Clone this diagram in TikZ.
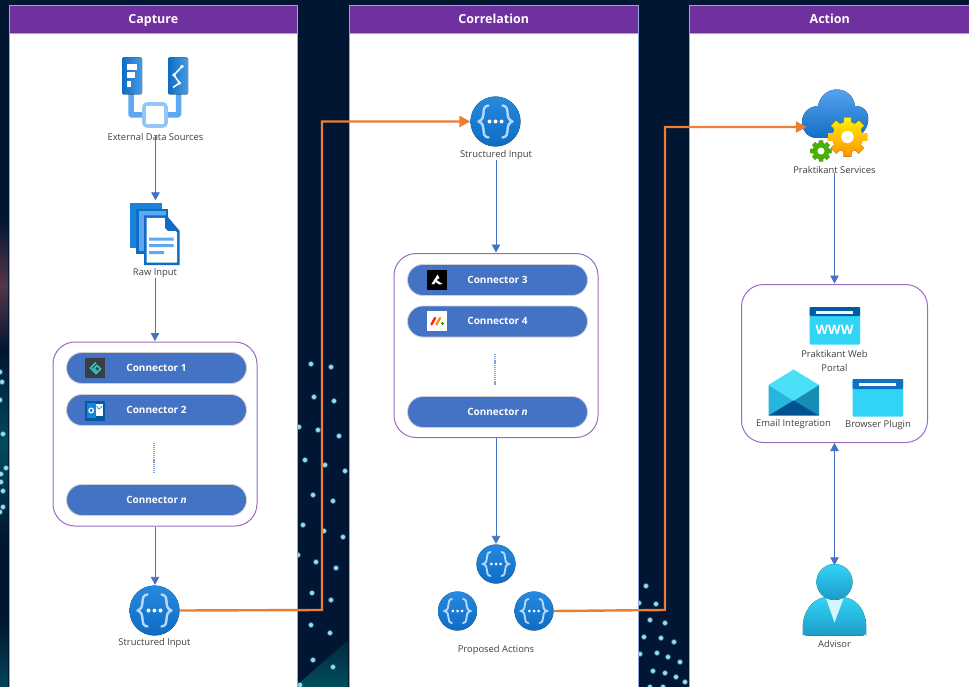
\documentclass[tikz,border=0pt]{standalone}
\usepackage{fontspec}
\setmainfont{Open Sans}
\usetikzlibrary{arrows.meta,shapes.geometric}
\definecolor{bgnavy}{HTML}{011633}
\definecolor{hdr}{HTML}{7030A0}
\definecolor{bar}{HTML}{4472C4}
\definecolor{orangeln}{HTML}{ED7D31}
\definecolor{purpleln}{HTML}{9A6CC0}
\definecolor{txt}{HTML}{404040}
\definecolor{iblue}{HTML}{1A84DC}
\definecolor{idark}{HTML}{0F6CC4}
\definecolor{ilight}{HTML}{5EA8F2}
\definecolor{icyan}{HTML}{32D4F5}
\definecolor{icyand}{HTML}{1C9CC8}
\definecolor{wwwblue}{HTML}{005BA1}
\definecolor{dotc}{HTML}{8FDCF0}
\tikzset{
 lane/.style={fill=white,draw=bar!60,line width=0.6pt},
 head/.style={fill=hdr,draw=bar!60,line width=0.6pt,text=white,text height=9.5pt,text depth=2.5pt,font=\fontsize{12.5}{14}\selectfont\bfseries},
 conn/.style={rounded corners=15.5pt,fill=bar,draw=black!18,line width=0.8pt,minimum width=180pt,minimum height=31pt,text=white,text height=8pt,text depth=1.5pt,font=\fontsize{10}{12}\selectfont\bfseries,inner sep=0pt},
 group/.style={rounded corners=22pt,fill=white,draw=purpleln,line width=1pt,inner sep=0pt},
 lbl/.style={text=txt,font=\fontsize{9.4}{14}\selectfont,inner sep=0pt,align=center,yshift=-1pt},
 slot/.style={inner sep=0pt,minimum size=#1,circle},
 flow/.style={draw=bar,line width=0.9pt,-{Triangle[width=8.5pt,length=8pt]},shorten >=0.5pt},
 flowboth/.style={draw=bar,line width=0.9pt,{Triangle[width=8.5pt,length=8pt]}-{Triangle[width=8.5pt,length=8pt]}},
 cross/.style={draw=orangeln,line width=2.4pt,-{Triangle[width=11pt,length=11pt]}},
 dots/.style={draw=bar!65,line width=1.4pt,dash pattern=on 1.2pt off 0.9pt},
 pics/apimark/.style={code={
   \fill[top color=iblue!85!ilight,bottom color=idark] (0,0) circle (25);
   \draw[ilight!45!white,line width=2.4pt,line cap=round,line join=round]
     (-7,-16) .. controls (-16,-15) and (-8,-3) .. (-17,0) .. controls (-8,3) and (-16,15) .. (-7,16);
   \draw[ilight!45!white,line width=2.4pt,line cap=round,line join=round]
     (7,-16) .. controls (16,-15) and (8,-3) .. (17,0) .. controls (8,3) and (16,15) .. (7,16);
   \fill[white] (-6,0) circle (2) (0,0) circle (2) (6,0) circle (2);
 }},
 pics/smallapi/.style={code={
   \fill[top color=iblue!85!ilight,bottom color=idark] (0,0) circle (19.5);
   \draw[ilight!45!white,line width=1.9pt,line cap=round]
     (-5.5,-12) .. controls (-12,-11) and (-6,-2) .. (-13,0) .. controls (-6,2) and (-12,11) .. (-5.5,12);
   \draw[ilight!45!white,line width=1.9pt,line cap=round]
     (5.5,-12) .. controls (12,-11) and (6,-2) .. (13,0) .. controls (6,2) and (12,11) .. (5.5,12);
   \fill[white] (-4.6,0) circle (1.5) (0,0) circle (1.5) (4.6,0) circle (1.5);
 }},
 pics/cog/.style args={#1/#2/#3/#4}{code={
   \fill[top color=#3,bottom color=#4,line join=round] (-11:#1)
     foreach \a in {0,45,...,315}{ -- (\a-11:#1) -- (\a+11:#1) -- (\a+15:#1*0.76) -- (\a+30:#1*0.76) } -- cycle;
   \fill[white] (0,0) circle (#2);
 }},
}
\newcommand{\dotsat}[1]{\foreach \px/\py in {#1}{\fill[dotc!60!bgnavy,opacity=.6] (\px,\py) circle (3);\fill[dotc] (\px,\py) circle (2.1);}}
\begin{document}
\begin{tikzpicture}[x=1pt,y=-1pt]
\useasboundingbox (0,0) rectangle (969,687);
\fill[bgnavy] (0,0) rectangle (969,687);
% background glows
\fill[top color=teal!15!bgnavy,bottom color=teal!55!bgnavy] (298,684) -- (348,640) -- (348,687) -- (298,687) -- cycle;
\fill[top color=bgnavy,bottom color=bgnavy,middle color=red!22!bgnavy!85!white] (0,220) rectangle (8,350);
\fill[top color=bgnavy,bottom color=bgnavy,middle color=teal!50!bgnavy] (0,350) rectangle (8,540);
\fill[top color=bgnavy,bottom color=teal!45!bgnavy] (0,620) rectangle (8,687);
% background dots
\dotsat{311/364,331/367,314/397,334/401,299/427,318/430,339/436,305/460,325/465,345/471,313/495,333/501,303/525,324/531,343/537,298/555,316/562,336/568,312/593,331/600,311/625,330/633,313/660,333/667,300/685}
\dotsat{646/586,639/603,656/604,650/620,665/623,644/637,661/638,674/642,640/654,657/653,668/657,680/662,653/671,665/673,676/677,685/682,650/687,663/687}
\dotsat{0/372,2/382,0/400,3/434,6/468,1/474,1/482,3/491,3/507,0/512}
% lanes
\node[lane,anchor=north west,minimum width=288pt,minimum height=660pt,inner sep=0pt] (lane1) at (9,28) {};
\node[lane,anchor=north west,minimum width=289pt,minimum height=660pt,inner sep=0pt] (lane2) at (349,28) {};
\node[lane,anchor=north west,minimum width=281pt,minimum height=660pt,inner sep=0pt] (lane3) at (689,28) {};
\node[head,anchor=north west,minimum width=288pt,minimum height=28pt,inner sep=0pt] (h1) at (9,5.5) {Capture};
\node[head,anchor=north west,minimum width=289pt,minimum height=28pt,inner sep=0pt] (h2) at (349,5.5) {Correlation};
\node[head,anchor=north west,minimum width=281pt,minimum height=28pt,inner sep=0pt] (h3) at (689,5.5) {Action};
% ---- groups
\node[group,minimum width=204pt,minimum height=184pt] (g1) at (155,434) {};
\node[group,minimum width=204pt,minimum height=184pt] (g2) at (496,345.5) {};
\node[group,minimum width=186pt,minimum height=158pt] (g3) at (834.5,363.5) {};
% ---- connector bars
\node[conn] (c1) at (156.5,368) {Connector 1};
\node[conn] (c2) at (156.5,410) {Connector 2};
\node[conn] (cn) at (156.5,500) {Connector \textit{n}};
\node[conn] (c3) at (497.5,280) {Connector 3};
\node[conn] (c4) at (497.5,321.5) {Connector 4};
\node[conn] (cm) at (497.5,412) {Connector \textit{n}};
\draw[dots] (154,442.5) -- (154,473);
\draw[dots] (495,354) -- (495,385);
% connector logos
\fill[black!85!cyan] (85,358) rectangle (105,378);
\draw[teal!55!cyan!80!white,line width=1.6pt] (96,362.5) -- (90.5,368) -- (96,373.5) -- (100.5,369) -- (97,365.5) -- (94,368.5) -- (96.5,371);
\fill[wwwblue] (85,400.5) rectangle (105,420.5);
\fill[white] (92,404) rectangle (103,416);
\fill[iblue] (86.5,403) rectangle (96,418);
\draw[white,line width=1.2pt] (91.2,410.5) circle (2.3);
\draw[iblue,line width=.7pt] (96.5,406) -- (99,409) -- (102.5,406);
\fill[black] (427,270) rectangle (447,290);
\fill[white] (431.5,284) -- (436,277) -- (437.5,274.5) -- (439.5,278) -- (436.5,280) -- (442.5,284) -- (439,284.5) -- (435.5,282) -- (434,284.5) -- cycle;
\fill[white] (427,311) rectangle (447,331);
\draw[line width=2.3pt,red!85!pink,line cap=round] (431.5,324.5) -- (435,318);
\draw[line width=2.3pt,orange!90!yellow,line cap=round] (436.5,324.5) -- (440,318);
\fill[green!65!black] (442.5,323.5) circle (1.6);
% ---- icon anchors
\node[slot=58pt] (ext) at (155,92) {};
\node[slot=64pt] (raw) at (155,233) {};
\node[slot=50pt] (api1) at (154.5,610.5) {};
\node[slot=50pt] (api2) at (495.5,121.5) {};
\node[slot=39pt] (pa1) at (496,564) {};
\node[slot=39pt] (pa2) at (457.5,611) {};
\node[slot=39pt] (pa3) at (534,611) {};
\node[slot=54pt] (svc) at (834,127) {};
\node[slot=62pt] (adv) at (834.5,596.5) {};
% --- External data sources icon
\draw[ilight,line width=5.5pt,rounded corners=1pt] (131,90) |- (145,115);
\draw[ilight,line width=5.5pt,rounded corners=1pt] (178.5,90) |- (165,115);
\fill[white] (143,103) rectangle (167,127);
\draw[ilight!65!white,line width=3.6pt,rounded corners=3pt] (144,104) rectangle (166,126);
\fill[left color=idark,right color=iblue!80,rounded corners=1.5pt] (122,57.5) rectangle (142,94.5);
\fill[left color=idark,right color=iblue!80,rounded corners=1.5pt] (168,57.5) rectangle (188,94.5);
\fill[white] (126.5,64) rectangle (137,70);\fill[white] (126.5,72.5) rectangle (134.5,78.5);\fill[white] (126.5,81.5) rectangle (131,87.5);
\draw[white,line width=1.5pt] (182,66.5) -- (174,75) -- (179.5,83) -- (173,87.5);
\fill[white] (182,66.5) circle (1.9) (174,75) circle (1.9) (179.5,83) circle (1.9);
% --- Raw input icon
\fill[iblue!90!idark] (129.5,203) rectangle (162,248);
\fill[idark] (136,209) rectangle (168,253.5);
\fill[ilight] (138.5,211.5) rectangle (165.5,251);
\fill[idark] (144,215.5) -- (166,215.5) -- (179.5,231) -- (179.5,265) -- (144,265) -- cycle;
\fill[white] (146.5,218) -- (165,218) -- (177,232.5) -- (177,262.5) -- (146.5,262.5) -- cycle;
\fill[idark] (165,216) -- (167,216) -- (179.5,231) -- (168,231) -- (165,228) -- cycle;
\fill[ilight] (149,237.5) rectangle (173.5,240.5) (149,244) rectangle (173.5,247) (149,251) rectangle (164,254);
% --- API icons
\pic at (api1) {apimark};
\pic at (api2) {apimark};
\pic at (pa1) {smallapi};
\pic at (pa2) {smallapi};
\pic at (pa3) {smallapi};
% --- Praktikant services
\fill[top color=ilight,bottom color=idark]
  (816,138) .. controls (797,136) and (797,107) .. (818,106)
  .. controls (822,84) and (852,84) .. (855,106)
  .. controls (868,106) and (871,118) .. (866,128)
  .. controls (860,140) and (850,138) .. (840,138) -- cycle;
\pic at (847.5,137) {cog={20/6.2/yellow!88!orange/orange!85!yellow}};
\pic at (821,151) {cog={10.5/3.5/green!50!lime!70!black/green!45!lime!70!black}};
% --- Web portal
\fill[icyan,rounded corners=1pt] (809.5,307) rectangle (860,344.5);
\fill[wwwblue,rounded corners=1pt] (809.5,307) rectangle (860,316);
\fill[white] (816,310.7) rectangle (853,314);
\node[inner sep=0pt,text=white,font=\fontsize{13}{14}\selectfont\bfseries] (www) at (834.5,330) {WWW};
% --- Browser plugin
\fill[icyan,rounded corners=1pt] (852.5,379) rectangle (903,416.5);
\fill[wwwblue!45!iblue,rounded corners=1pt] (852.5,379) rectangle (903,389);
\fill[white] (859,382.5) rectangle (896,386);
% --- Email
\fill[icyan!85!cyan!85!white] (768.5,385) -- (793.5,369.5) -- (819,385) -- (793.5,401) -- cycle;
\fill[icyand!55!icyan] (768.5,385) -- (793.5,401) -- (768.5,415.5) -- cycle;
\fill[icyand!90!black] (819,385) -- (793.5,401) -- (819,415.5) -- cycle;
\fill[wwwblue!90!black] (768.5,415.5) -- (793.5,400.5) -- (819,415.5) -- cycle;
% --- Advisor
\fill[top color=icyan,bottom color=icyand,rounded corners=3pt]
  (803,635.5) -- (803,633) .. controls (802,612) and (812,600) .. (826,597) -- (843,597)
  .. controls (858,600) and (867,612) .. (866,633) -- (866,635.5) -- cycle;
\fill[white!80!icyan] (825.5,597) -- (844,597) -- (834.5,622.5) -- cycle;
\fill[top color=icyan,bottom color=icyand] (834.5,582) circle (18);
% --- labels
\node[lbl] (lext) at (155.5,135.5) {External Data Sources};
\node[lbl] (lraw) at (155,272.5) {Raw Input};
\node[lbl] (lapi1) at (154.5,642.5) {Structured Input};
\node[lbl] (lapi2) at (496,154) {Structured Input};
\node[lbl] (lpa) at (496,649) {Proposed Actions};
\node[lbl] (lsvc) at (834.5,168.5) {Praktikant Services};
\node[lbl] (lweb) at (834.5,359.5) {Praktikant Web\\Portal};
\node[lbl] (lem) at (793.5,423) {Email Integration};
\node[lbl] (lbp) at (878,424) {Browser Plugin};
\node[lbl] (ladv) at (834.5,642.5) {Advisor};
% --- connectors
\coordinate (s1) at ([yshift=5pt]lext.south);
\draw[flow] (s1) -- (s1 |- raw.north);
\draw[flow] (lraw.south) -- (lraw.south |- g1.north);
\draw[flow] (g1.south) -- (g1.south |- api1.north);
\draw[flow] (lapi2.south) -- (lapi2.south |- g2.north);
\draw[flow] (g2.south) -- (g2.south |- pa1.north);
\draw[flow] (lsvc.south) -- (lsvc.south |- g3.north);
\draw[flowboth] (adv.north) -- (adv.north |- g3.south);
\coordinate (b1) at (322,610);
\coordinate (b2) at (322,121.5);
\coordinate (b3) at (665,610);
\coordinate (b4) at (665,127);
\draw[cross] (api1.east) -- (b1) -- (b2) -- (api2.west);
\draw[cross] (pa3.east) -- (b3) -- (b4) -- (svc.west);
\end{tikzpicture}
\end{document}
